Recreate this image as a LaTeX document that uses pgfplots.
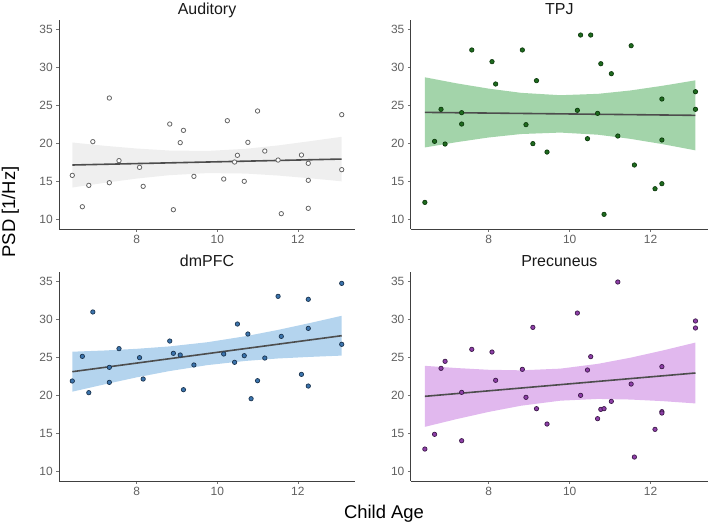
\documentclass[border=0pt]{standalone}
\usepackage{pgfplots}
\pgfplotsset{compat=1.18}
\usepackage{fontspec}
\setmainfont{Liberation Sans}

\definecolor{lineg}{HTML}{4D4D4D}
\definecolor{audrib}{HTML}{EFEFEF}
\definecolor{tpjrib}{HTML}{A3D4AA}
\definecolor{dmrib}{HTML}{B4D4EE}
\definecolor{prerib}{HTML}{E1B8EE}
\definecolor{tpjpt}{HTML}{1E6B1E}
\definecolor{tpjed}{HTML}{0D3A0D}
\definecolor{dmpt}{HTML}{3B74AD}
\definecolor{dmed}{HTML}{1C3550}
\definecolor{prept}{HTML}{8E3FA8}
\definecolor{preed}{HTML}{3D1A4A}

\pgfplotsset{panel/.style={
  scale only axis, width=296bp, height=209.3bp,
  xmin=6.07, xmax=13.42, ymin=8.78, ymax=36.22,
  axis x line=bottom, axis y line=left,
  axis line style={-, draw=black!75, line width=0.9bp},
  xtick={8,10,12}, ytick={10,15,20,25,30,35},
  tick align=outside, major tick length=2.8bp,
  tick style={draw=black!55, line width=0.6bp},
  minor tick num=0,
  ticklabel style={font=\fontsize{12}{14}\selectfont, text=black!62},
  /pgf/number format/assume math mode=true,
  title style={at={(0.5,1)}, anchor=base, yshift=-0.5bp, font=\fontsize{16}{18}\selectfont, text=black!90},
  anchor=south west,
}}

\pgfplotstableread{
x y
6.40 15.81
6.65 11.70
6.81 14.50
6.91 20.23
7.32 25.95
7.32 14.85
7.56 17.74
8.07 16.86
8.16 14.37
8.82 22.54
8.91 11.31
9.08 20.10
9.16 21.71
9.42 15.68
10.16 15.33
10.25 22.98
10.43 17.56
10.50 18.44
10.67 15.03
10.76 20.14
11.00 24.25
11.18 19.00
11.51 17.82
11.59 10.79
12.09 18.48
12.26 17.39
12.26 15.16
12.26 11.49
13.09 23.77
13.09 16.56
}\audpts

% ribbon outline: upper edge left to right, lower edge right to left
\pgfplotstableread{
x y
6.40 20.12
7.20 19.69
8.00 19.33
8.80 19.07
9.75 19.01
10.70 19.29
11.50 19.73
12.30 20.29
13.09 20.87
13.09 15.03
12.30 15.43
11.50 15.79
10.70 16.05
9.75 16.11
8.80 15.83
8.00 15.39
7.20 14.83
6.40 14.22
}\audrib

\pgfplotstableread{
x y
6.42 12.27
6.66 20.27
6.82 24.47
6.92 19.92
7.33 24.03
7.33 22.54
7.58 32.25
8.08 30.72
8.17 27.79
8.83 32.25
8.92 22.46
9.09 19.97
9.18 28.23
9.44 18.87
10.19 24.34
10.27 34.21
10.44 20.62
10.52 34.21
10.69 23.94
10.77 30.45
10.85 10.70
11.03 29.14
11.19 20.97
11.52 32.81
11.60 17.17
12.11 14.06
12.28 25.82
12.28 20.45
12.28 14.72
13.11 26.78
13.11 24.47
}\tpjpts

\pgfplotstableread{
x y
6.42 28.67
7.20 27.88
8.00 27.18
8.80 26.63
9.77 26.32
10.70 26.50
11.50 26.94
12.30 27.56
13.11 28.27
13.11 19.09
12.30 19.90
11.50 20.60
10.70 21.14
9.77 21.42
8.80 21.23
8.00 20.78
7.20 20.16
6.42 19.47
}\tpjrib

\pgfplotstableread{
x y
6.40 21.89
6.65 25.12
6.81 20.36
6.91 30.94
7.32 23.68
7.32 21.71
7.56 26.13
8.07 24.95
8.16 22.15
8.82 27.13
8.91 25.52
9.08 25.30
9.16 20.75
9.42 23.99
10.16 25.43
10.43 24.34
10.50 29.36
10.67 25.21
10.76 28.05
10.84 19.57
11.00 21.93
11.18 24.90
11.51 32.99
11.59 27.74
12.09 22.76
12.26 32.60
12.26 28.79
12.26 21.23
13.09 34.69
13.09 26.70
}\dmpts

\pgfplotstableread{
x y
6.40 25.73
7.20 25.89
8.00 26.11
8.80 26.42
9.75 26.97
10.70 27.76
11.50 28.58
12.30 29.49
13.09 30.44
13.09 25.22
12.30 25.05
11.50 24.84
10.70 24.52
9.75 23.97
8.80 23.18
8.00 22.37
7.20 21.45
6.40 20.49
}\dmrib

\pgfplotstableread{
x y
6.42 12.97
6.66 14.90
6.82 23.55
6.92 24.47
7.33 20.40
7.33 14.06
7.58 26.04
8.08 25.69
8.17 21.98
8.83 23.42
8.92 19.75
9.09 28.92
9.18 18.26
9.44 16.25
10.19 30.80
10.27 20.01
10.44 23.33
10.52 25.08
10.69 16.95
10.77 18.17
10.85 18.26
11.03 19.22
11.19 34.87
11.52 21.49
11.60 11.92
12.11 15.55
12.28 23.77
12.28 17.87
12.28 17.69
13.11 29.76
13.11 28.84
}\prepts

\pgfplotstableread{
x y
6.42 23.88
7.20 23.59
8.00 23.36
8.80 23.29
9.77 23.51
10.70 24.14
11.50 24.94
12.30 25.89
13.11 26.93
13.11 18.95
12.30 19.25
11.50 19.46
10.70 19.54
9.77 19.31
8.80 18.65
8.00 17.84
7.20 16.89
6.42 15.88
}\prerib

\begin{document}
\begin{tikzpicture}
\path[use as bounding box] (0,0) rectangle (711bp,527bp);

% Auditory
\begin{axis}[panel, at={(59bp,298bp)}, title={Auditory}]
\addplot[fill=audrib, draw=none] table[x=x,y=y] {\audrib} -- cycle;
\addplot[lineg, line width=1.6bp] coordinates {(6.40,17.17) (13.09,17.95)};
\addplot[only marks, mark=*, mark size=2.2bp, mark options={fill=white, draw=black!60, line width=0.8bp}] table[x=x,y=y] {\audpts};
\end{axis}

% TPJ
\begin{axis}[panel, at={(410.7bp,298bp)}, width=297.3bp, title={TPJ}]
\addplot[fill=tpjrib, draw=none] table[x=x,y=y] {\tpjrib} -- cycle;
\addplot[lineg, line width=1.6bp] coordinates {(6.42,24.07) (13.11,23.68)};
\addplot[only marks, mark=*, mark size=2.2bp, mark options={fill=tpjpt, draw=tpjed, line width=0.7bp}] table[x=x,y=y] {\tpjpts};
\end{axis}

% dmPFC
\begin{axis}[panel, at={(59bp,46bp)}, title={dmPFC}]
\addplot[fill=dmrib, draw=none] table[x=x,y=y] {\dmrib} -- cycle;
\addplot[lineg, line width=1.6bp] coordinates {(6.40,23.11) (13.09,27.83)};
\addplot[only marks, mark=*, mark size=2.2bp, mark options={fill=dmpt, draw=dmed, line width=0.7bp}] table[x=x,y=y] {\dmpts};
\end{axis}

% Precuneus
\begin{axis}[panel, at={(410.7bp,46bp)}, width=297.3bp, title={Precuneus}]
\addplot[fill=prerib, draw=none] table[x=x,y=y] {\prerib} -- cycle;
\addplot[lineg, line width=1.6bp] coordinates {(6.42,19.88) (13.11,22.94)};
\addplot[only marks, mark=*, mark size=2.2bp, mark options={fill=prept, draw=preed, line width=0.7bp}] table[x=x,y=y] {\prepts};
\end{axis}

\node[anchor=base, font=\fontsize{18.5}{20}\selectfont] at (384bp,9bp) {Child Age};
\node[rotate=90, anchor=base, font=\fontsize{18.5}{20}\selectfont] at (15bp,315bp) {PSD [1/Hz]};
\end{tikzpicture}
\end{document}
